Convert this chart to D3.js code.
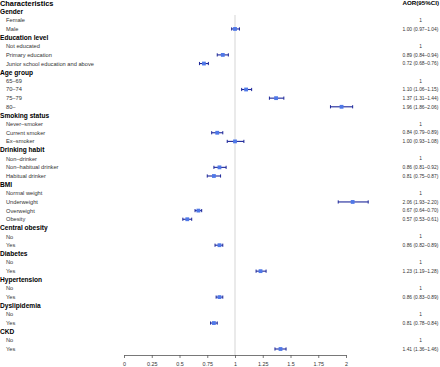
<!DOCTYPE html>
<html>
<head>
<meta charset="utf-8">
<script src="https://cdn.jsdelivr.net/npm/d3@7"></script>
<style>
  body { margin: 0; background: #fff; }
  svg text { font-family: "Liberation Sans", Arial, sans-serif; }
</style>
</head>
<body>
<div id="chart"></div>
<script>
// rows of the table, top to bottom
const labels = ["Gender", "Female", "Male",
  "Education level", "Not educated", "Primary education", "Junior school education and above",
  "Age group", "65\u201369", "70\u201374", "75\u201379", "80\u2013",
  "Smoking status", "Never\u2013smoker", "Current smoker", "Ex\u2013smoker",
  "Drinking habit", "Non\u2013drinker", "Non\u2013habitual drinker", "Habitual drinker",
  "BMI", "Normal weight", "Underweight", "Overweight", "Obesity",
  "Central obesity", "No", "Yes",
  "Diabetes", "No", "Yes",
  "Hypertension", "No", "Yes",
  "Dyslipidemia", "No", "Yes",
  "CKD", "No", "Yes"];

// null = group header, 1 with no CI = reference category
const aor = [null, 1, 1.00,
  null, 1, 0.89, 0.72,
  null, 1, 1.10, 1.37, 1.96,
  null, 1, 0.84, 1.00,
  null, 1, 0.86, 0.81,
  null, 1, 2.06, 0.67, 0.57,
  null, 1, 0.86,
  null, 1, 1.23,
  null, 1, 0.86,
  null, 1, 0.81,
  null, 1, 1.41];
const lower = [null, null, 0.97,
  null, null, 0.84, 0.68,
  null, null, 1.06, 1.31, 1.86,
  null, null, 0.79, 0.93,
  null, null, 0.81, 0.75,
  null, null, 1.93, 0.64, 0.53,
  null, null, 0.82,
  null, null, 1.19,
  null, null, 0.83,
  null, null, 0.78,
  null, null, 1.36];
const upper = [null, null, 1.04,
  null, null, 0.94, 0.76,
  null, null, 1.15, 1.44, 2.06,
  null, null, 0.89, 1.08,
  null, null, 0.92, 0.87,
  null, null, 2.20, 0.70, 0.61,
  null, null, 0.89,
  null, null, 1.28,
  null, null, 0.89,
  null, null, 0.84,
  null, null, 1.46];
const xTicks = [0, 0.25, 0.5, 0.75, 1, 1.25, 1.5, 1.75, 2];

const width = 440, height = 367;
const fmt = d3.format(".2f");

const rows = labels.map((l, i) => ({
  label: l, i: i,
  header: aor[i] === null,
  est: aor[i], lo: lower[i], hi: upper[i]
}));

const svg = d3.select('#chart').append('svg')
  .attr('width', width)
  .attr('height', height);

const x = d3.scaleLinear().domain([0, 2]).range([124, 346]);
const y = d3.scalePoint()
  .domain(d3.range(-1, labels.length))
  .range([3, 349]);

// column titles
svg.append('text')
  .attr('x', 0).attr('y', y(-1))
  .attr('dy', '0.35em')
  .attr('font-size', 7.4).attr('font-weight', 'bold')
  .text('Characteristics');
svg.append('text')
  .attr('x', 439).attr('y', y(-1))
  .attr('dy', '0.35em')
  .attr('text-anchor', 'end')
  .attr('font-size', 6.2).attr('font-weight', 'bold')
  .text('AOR(95%CI)');

// row labels
svg.selectAll('text.lab')
  .data(rows)
  .enter().append('text')
  .attr('class', 'lab')
  .attr('x', d => d.header ? 0 : 6)
  .attr('y', d => y(d.i))
  .attr('dy', '0.35em')
  .attr('font-size', d => d.header ? 6.6 : 5.7)
  .attr('font-weight', d => d.header ? 'bold' : 'normal')
  .attr('fill', d => d.header ? '#000' : '#333')
  .text(d => d.label);

// AOR text
svg.selectAll('text.aor')
  .data(rows.filter(d => !d.header))
  .enter().append('text')
  .attr('class', 'aor')
  .attr('x', 420.5)
  .attr('y', d => y(d.i))
  .attr('dy', '0.35em')
  .attr('text-anchor', 'middle')
  .attr('font-size', 4.9)
  .attr('fill', '#333')
  .text(d => d.lo === null ? '1' : `${fmt(d.est)} (${fmt(d.lo)}\u2013${fmt(d.hi)})`);

// reference line at 1
svg.append('line')
  .attr('x1', x(1)).attr('x2', x(1))
  .attr('y1', 15).attr('y2', 355)
  .attr('stroke', '#e3e3e3')
  .attr('stroke-width', 1.5);

// axis
const axis = svg.append('g')
  .attr('transform', 'translate(0,355)')
  .call(d3.axisBottom(x).tickValues(xTicks).tickFormat(d3.format('')).tickSize(3).tickPadding(4).tickSizeOuter(0));
axis.select('.domain').attr('stroke', '#555').attr('stroke-width', 0.8);
axis.selectAll('.tick line').attr('stroke', '#555').attr('stroke-width', 0.8);
axis.selectAll('.tick text').attr('font-size', 5.4).attr('fill', '#333')
  .attr('font-family', '"Liberation Sans", Arial, sans-serif');

// CIs and points
const pts = rows.filter(d => d.lo !== null);
const g = svg.append('g');
g.selectAll('line.ci')
  .data(pts).enter().append('line')
  .attr('class', 'ci')
  .attr('x1', d => x(d.lo)).attr('x2', d => x(d.hi))
  .attr('y1', d => y(d.i)).attr('y2', d => y(d.i))
  .attr('stroke', '#1c2699').attr('stroke-width', 1.1);
['lo', 'hi'].forEach(k => {
  g.selectAll('line.cap-' + k)
    .data(pts).enter().append('line')
    .attr('class', 'cap-' + k)
    .attr('x1', d => x(d[k])).attr('x2', d => x(d[k]))
    .attr('y1', d => y(d.i) - 1.6).attr('y2', d => y(d.i) + 1.6)
    .attr('stroke', '#1c2699').attr('stroke-width', 1);
});
g.selectAll('rect.pt')
  .data(pts).enter().append('rect')
  .attr('class', 'pt')
  .attr('x', d => x(d.est) - 1.9).attr('y', d => y(d.i) - 1.9)
  .attr('width', 3.8).attr('height', 3.8)
  .attr('fill', '#4f78e8');
</script>
</body>
</html>
